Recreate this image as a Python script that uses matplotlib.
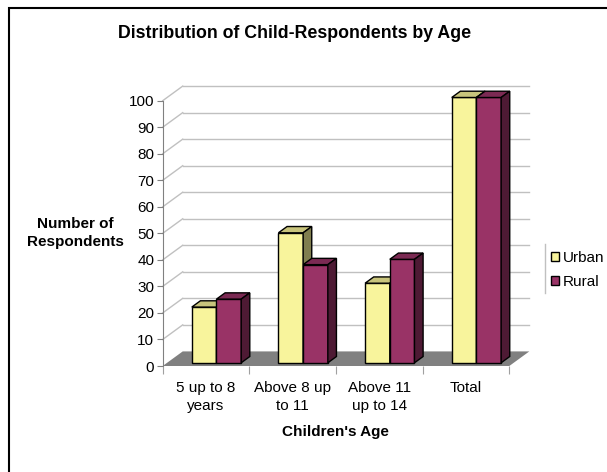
import matplotlib.pyplot as plt
from matplotlib.patches import Polygon, Patch, Rectangle
from matplotlib.lines import Line2D
import numpy as np

plt.rcParams['font.family'] = ['Liberation Sans', 'DejaVu Sans']

# %% Data
categories = ['5 up to 8\nyears', 'Above 8 up\nto 11', 'Above 11\nup to 14', 'Total']
urban = [21, 49, 30, 100]
rural = [24, 37, 39, 100]
series = ['Urban', 'Rural']
yticks = np.arange(0, 101, 10)

# %% Colours (front, top, side)
urban_cols = ('#f8f49c', '#c8c47c', '#807e4f')
rural_cols = ('#993366', '#7b2a53', '#4e1a34')
grid_color = '#c0c0c0'
floor_color = '#808080'

# %% 3D look: depth offsets in data units
DX, DY = 0.231, 5.5       # full depth of the wall/floor
f0, fd = 0.22, 0.43       # bar front position and bar depth (fraction of full depth)
bw = 0.285                # bar width
x0 = 0.285                # left edge of first bar inside a category

W, H = 607, 472
fig = plt.figure(figsize=(W / 100, H / 100), dpi=100)
ax = fig.add_axes([162.7 / W, (H - 366) / H, 346.6 / W, 265.3 / H])
ax.set_xlim(0, 4)
ax.set_ylim(0, 100)

# back wall gridlines plus side wall diagonals
for yv in yticks[1:]:
    ax.plot([DX, 4 + DX], [yv + DY, yv + DY], color=grid_color, lw=1, clip_on=False, zorder=1)
    ax.plot([0, DX], [yv, yv + DY], color=grid_color, lw=1, clip_on=False, zorder=1)

# floor
ax.add_patch(Polygon([(0, 0), (4, 0), (4 + DX, DY), (DX, DY)], closed=True,
                     facecolor=floor_color, edgecolor='none', clip_on=False, zorder=2))

# bars: front face via ax.bar, top and side faces as polygons
ox, oy = f0 * DX, f0 * DY
bx, by = fd * DX, fd * DY
for i in range(len(categories)):
    for j, (vals, cols) in enumerate([(urban, urban_cols), (rural, rural_cols)]):
        left = i + x0 + j * bw + ox
        v = vals[i]
        ax.bar(left, v, width=bw, bottom=oy, align='edge', color=cols[0],
               edgecolor='black', lw=1, zorder=3, clip_on=False)
        top = oy + v
        ax.add_patch(Polygon([(left, top), (left + bw, top), (left + bw + bx, top + by),
                              (left + bx, top + by)], closed=True, facecolor=cols[1],
                             edgecolor='black', lw=1, zorder=3, clip_on=False))
        ax.add_patch(Polygon([(left + bw, oy), (left + bw + bx, oy + by), (left + bw + bx, top + by),
                              (left + bw, top)], closed=True, facecolor=cols[2],
                             edgecolor='black', lw=1, zorder=3, clip_on=False))

# axes styling
for s in ['top', 'right', 'bottom']:
    ax.spines[s].set_visible(False)
ax.spines['left'].set_color('#808080')
ax.patch.set_visible(False)
ax.set_yticks(yticks)
ax.tick_params(axis='y', length=4, color='#808080', labelsize=11, pad=2)
ax.set_xticks(np.arange(0, 5))
ax.set_xticklabels([])
ax.set_xticks(np.arange(len(categories)) + 0.5, minor=True)
ax.set_xticklabels(categories, minor=True, fontsize=11, linespacing=1.3)
ax.tick_params(axis='x', which='major', length=6, color='#a0a0a0')
ax.tick_params(axis='x', which='minor', length=0, pad=11)

# titles and labels
fig.text(295 / W, 1 - 34 / H, 'Distribution of Child-Respondents by Age',
         ha='center', va='center', fontsize=12.8, fontweight='bold')
fig.text(75 / W, 1 - 233 / H, 'Number of\nRespondents', ha='center', va='center',
         fontsize=11, fontweight='bold', linespacing=1.3)
fig.text(335.5 / W, 1 - 432 / H, "Children's Age", ha='center', va='center',
         fontsize=11, fontweight='bold')

# legend
handles = [Patch(facecolor=urban_cols[0], edgecolor='black', lw=1),
           Patch(facecolor=rural_cols[0], edgecolor='black', lw=1)]
fig.legend(handles, series, loc='center left', bbox_to_anchor=(551 / W, 1 - 270 / H),
           frameon=False, fontsize=11, handlelength=0.55, handleheight=0.55,
           handletextpad=0.25, labelspacing=0.65, borderpad=0, borderaxespad=0)
fig.add_artist(Line2D([545 / W, 545 / W], [1 - 244 / H, 1 - 293 / H],
                      transform=fig.transFigure, color='#c0c0c0', lw=1))

# chart border (runs off the right and bottom edges)
fig.add_artist(Rectangle((8.5 / W, -0.05), 1.0, (H - 7.5) / H + 0.05, fill=False,
                         edgecolor='black', lw=1.5, transform=fig.transFigure))

fig.savefig('out.png', dpi=100)
